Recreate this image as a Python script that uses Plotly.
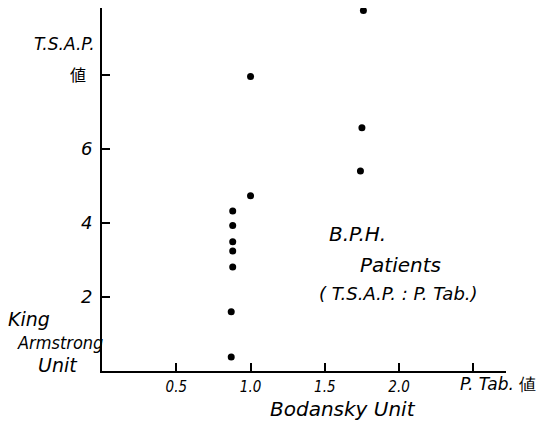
import plotly.graph_objects as go

# Data
bodansky = [0.88, 0.88, 0.88, 0.88, 0.88, 0.87, 0.87, 1.00, 1.00, 1.76, 1.75, 1.74]
tsap = [4.32, 3.93, 3.49, 3.24, 2.81, 1.60, 0.38, 7.95, 4.73, 9.73, 6.57, 5.40]

x_tickvals = [0.5, 1.0, 1.5, 2.0, 2.5]
x_ticktext = ["0.5", "1.0", "1.5", "2.0", ""]
y_tickvals = [2, 4, 6, 8]
y_ticktext = ["2", "4", "6", ""]

W, H = 537, 423
L, R, T, B = 102, 31, 8, 52
FONT = "DejaVu Sans"
CFONT = "DejaVu Sans Condensed"


def px(x):
    return (x - L) / (W - L - R)


def py(y):
    return (H - B - y) / (H - T - B)


fig = go.Figure()
fig.add_trace(go.Scatter(
    x=bodansky, y=tsap, mode="markers",
    marker=dict(color="black", size=7),
    showlegend=False, hoverinfo="skip",
))

ann_font = dict(family=FONT, size=18, color="black", style="italic")
cjk_font = dict(family="Noto Sans CJK JP", size=16, color="black")

annotations = [
    dict(text="T.S.A.P.", x=px(97), y=py(44), xanchor="right", yanchor="middle", font=dict(ann_font, size=17)),
    dict(text="値", x=px(78), y=py(74), xanchor="center", yanchor="middle", font=cjk_font),
    dict(text="King", x=px(6), y=py(319), xanchor="left", yanchor="middle", font=dict(ann_font, size=19)),
    dict(text="Armstrong", x=px(15), y=py(342), xanchor="left", yanchor="middle",
         font=dict(ann_font, family=CFONT, size=18)),
    dict(text="Unit", x=px(36), y=py(365), xanchor="left", yanchor="middle", font=dict(ann_font, size=19)),
    dict(text="B.P.H.", x=px(327), y=py(234), xanchor="left", yanchor="middle", font=dict(ann_font, size=20)),
    dict(text="Patients", x=px(358), y=py(265), xanchor="left", yanchor="middle", font=dict(ann_font, size=20)),
    dict(text="( T.S.A.P. : P. Tab.)", x=px(317), y=py(293), xanchor="left", yanchor="middle", font=dict(ann_font, size=18)),
    dict(text="<i>P. Tab.</i> 値", x=px(458), y=py(384), xanchor="left", yanchor="middle",
         font=dict(family=FONT, size=17, color="black")),
    dict(text="Bodansky Unit", x=px(343), y=py(409), xanchor="center", yanchor="middle",
         font=dict(ann_font, size=20), borderpad=0),
]
for a in annotations:
    a.update(xref="paper", yref="paper", showarrow=False)

fig.update_layout(
    width=W, height=H, autosize=False,
    margin=dict(l=L, r=R, t=T, b=B),
    paper_bgcolor="white", plot_bgcolor="white",
    annotations=annotations,
    xaxis=dict(
        range=[0, 2.72], showgrid=False, zeroline=False,
        showline=True, linecolor="black", linewidth=2,
        ticks="inside", ticklen=8, tickwidth=1.5, tickcolor="black",
        tickvals=x_tickvals, ticktext=x_ticktext, ticklabelstandoff=1,
        tickfont=dict(family=CFONT, size=15, color="black", style="italic"),
    ),
    yaxis=dict(
        range=[0, 9.8], showgrid=False, zeroline=False,
        showline=True, linecolor="black", linewidth=2,
        ticks="inside", ticklen=8, tickwidth=1.5, tickcolor="black",
        tickvals=y_tickvals, ticktext=y_ticktext, ticklabelstandoff=4,
        tickfont=dict(family=FONT, size=18, color="black", style="italic"),
    ),
)

fig.write_html("out.html")
